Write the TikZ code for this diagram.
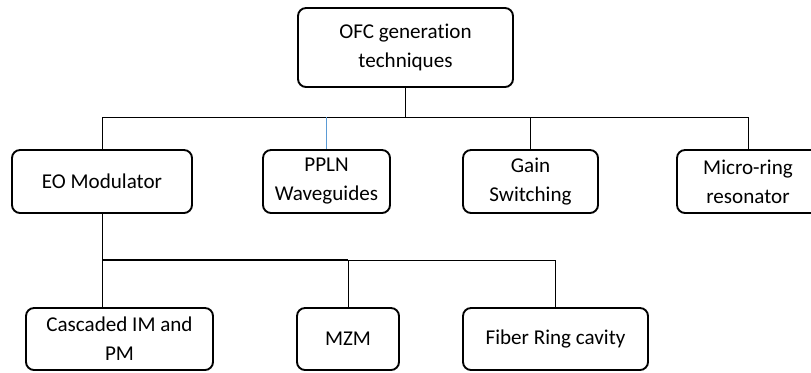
\documentclass[tikz,border=0pt]{standalone}
\usepackage{fontspec}
\setmainfont{Carlito}[Ligatures=NoCommon]
\usepackage{tikz}
\usepackage{xcolor}
\usetikzlibrary{positioning,calc}
\definecolor{linkblue}{RGB}{91,155,213}

\begin{document}
\begin{tikzpicture}[
    technique/.style={rectangle, draw, line width=1.6pt, rounded corners=0.24cm, align=center, minimum height=1.89cm, inner sep=2pt, font=\fontsize{18}{24.7}\selectfont},
    link/.style={draw, line width=0.8pt}
]
\useasboundingbox (0,0) rectangle (24.33,-11.16);

% Root
\node[technique, minimum width=6.45cm, minimum height=2.37cm] (ofc) at (12.165,-1.425) {OFC generation\\techniques};

% Techniques
\node[technique, minimum width=5.4cm] (eo) at (3.06,-5.445) {EO Modulator};
\node[technique, minimum width=3.81cm] (ppln) at (9.795,-5.445) {PPLN\\Waveguides};
\node[technique, minimum width=4.05cm] (gain) at (15.915,-5.445) {Gain\\Switching};
\node[technique, minimum width=4.26cm] (micro) at (22.44,-5.445) {Micro-ring\\resonator};

% EO modulator types
\node[technique, minimum width=5.61cm, minimum height=1.86cm] (casc) at (3.585,-10.17) {Cascaded IM and\\PM};
\node[technique, minimum width=3.06cm, minimum height=1.86cm] (mzm) at (10.44,-10.17) {MZM};
\node[technique, minimum width=5.55cm, minimum height=1.86cm] (fiber) at (16.665,-10.17) {Fiber Ring cavity};

% Bus lines
\coordinate (bus) at (0,-3.51);
\coordinate (subbus) at (0,-7.8);

% Connections
\draw[link] (ofc.south) -- (ofc.south |- bus);
\draw[link] (eo.north) |- (micro.north |- bus) -- (micro.north);
\draw[link, linkblue] (ppln.north) -- (ppln.north |- bus);
\draw[link] (gain.north) -- (gain.north |- bus);

\draw[link] (eo.south) -- (eo.south |- casc.north);
\draw[link, line width=1.4pt] (eo.south |- subbus) -- (mzm.north |- subbus);
\draw[link] (mzm.north |- subbus) -| (fiber.north);
\draw[link] (mzm.north) -- (mzm.north |- subbus);

\end{tikzpicture}
\end{document}
